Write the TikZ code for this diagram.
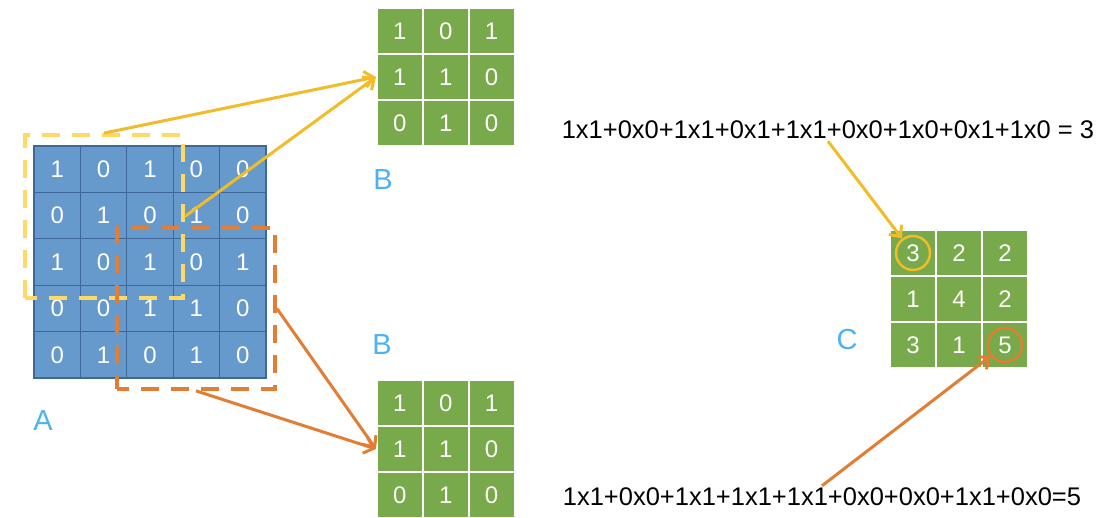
\documentclass[tikz,border=0pt]{standalone}
\usepackage{fontspec}
\setmainfont{Liberation Sans}
\usetikzlibrary{arrows.meta}
\definecolor{ablue}{RGB}{102,153,204}
\definecolor{adark}{RGB}{62,104,153}
\definecolor{ggreen}{RGB}{120,169,75}
\definecolor{ybox}{RGB}{255,217,102}
\definecolor{yarrow}{RGB}{242,187,40}
\definecolor{oarrow}{RGB}{226,126,52}
\definecolor{lblue}{RGB}{77,178,245}
\tikzset{
  acell/.style={rectangle, minimum size=46.4pt, inner sep=0pt, fill=ablue, draw=adark, line width=1.2pt, text=white, font=\fontsize{24}{24}\selectfont},
  gcell/.style={rectangle, minimum size=46pt, inner sep=0pt, fill=ggreen, draw=white, line width=2pt, text=white, font=\fontsize{24}{24}\selectfont},
  lbl/.style={text=lblue, font=\fontsize{29}{29}\selectfont},
  formula/.style={font=\fontsize{25.5}{25.5}\selectfont, text=black, inner sep=2pt},
  dashbox/.style={rectangle, inner sep=0pt, line width=3.8pt, dash pattern=on 18pt off 12pt, dash phase=6pt},
  arr/.style={line width=3pt, -{Straight Barb[length=9pt,width=16pt,line width=3pt]}},
  ring/.style={circle, minimum size=34pt, inner sep=0pt, line width=2.5pt}
}
\begin{document}
\begin{tikzpicture}[x=1pt,y=-1pt]
\useasboundingbox (0,0) rectangle (1102,517);
% matrix A
\foreach \r/\row in {1/{1,0,1,0,0},2/{0,1,0,1,0},3/{1,0,1,0,1},4/{0,0,1,1,0},5/{0,1,0,1,0}}{
  \foreach \v [count=\c] in \row {
    \node[acell] (a-\r-\c) at ({34+46.4*(\c-0.5)},{146+46.4*(\r-0.5)}) {\v};
  }
}
\draw[adark, line width=1.5pt] (a-1-1.north west) rectangle (a-5-5.south east);
% matrices B
\foreach \r/\row in {1/{1,0,1},2/{1,1,0},3/{0,1,0}}{
  \foreach \v [count=\c] in \row {
    \node[gcell] (b-\r-\c) at ({377+45.8*(\c-0.5)},{8+46*(\r-0.5)}) {\v};
    \node[gcell] (d-\r-\c) at ({377+45.8*(\c-0.5)},{380+46*(\r-0.5)}) {\v};
  }
}
% matrix C
\foreach \r/\row in {1/{3,2,2},2/{1,4,2},3/{3,1,5}}{
  \foreach \v [count=\c] in \row {
    \node[gcell] (c-\r-\c) at ({890+46*(\c-0.5)},{230+46*(\r-0.5)}) {\v};
  }
}
% dashed windows
\node[dashbox, draw=ybox, minimum width=158pt, minimum height=163pt] (yb) at (104,216.5) {};
\node[dashbox, draw=oarrow, minimum width=158pt, minimum height=161pt] (ob) at (196,308.5) {};
% rings
\node[ring, draw=yarrow] (r1) at (c-1-1) {};
\node[ring, draw=oarrow] (r2) at (c-3-3) {};
% labels
\node[lbl] (la) at (43,421) {A};
\node[lbl] (lb1) at (383,180) {B};
\node[lbl] (lb2) at (382,345) {B};
\node[lbl] (lc) at (847,340) {C};
% formulas
\node[formula] (f1) at (828,130) {1x1+0x0+1x1+0x1+1x1+0x0+1x0+0x1+1x0 = 3};
\node[formula] (f2) at (822,497) {1x1+0x0+1x1+1x1+1x1+0x0+0x0+1x1+0x0=5};
% arrows
\draw[arr, yarrow] (yb.north) -- (b-2-1.west);
\draw[arr, yarrow] (yb.east) -- (b-2-1.west);
\draw[arr, oarrow] (ob.east) -- (d-2-1.west);
\draw[arr, oarrow] (ob.south) -- (d-2-1.west);
\draw[arr, yarrow] (f1.south) -- (r1);
\draw[arr, oarrow] (f2.north) -- (r2);
\end{tikzpicture}
\end{document}
